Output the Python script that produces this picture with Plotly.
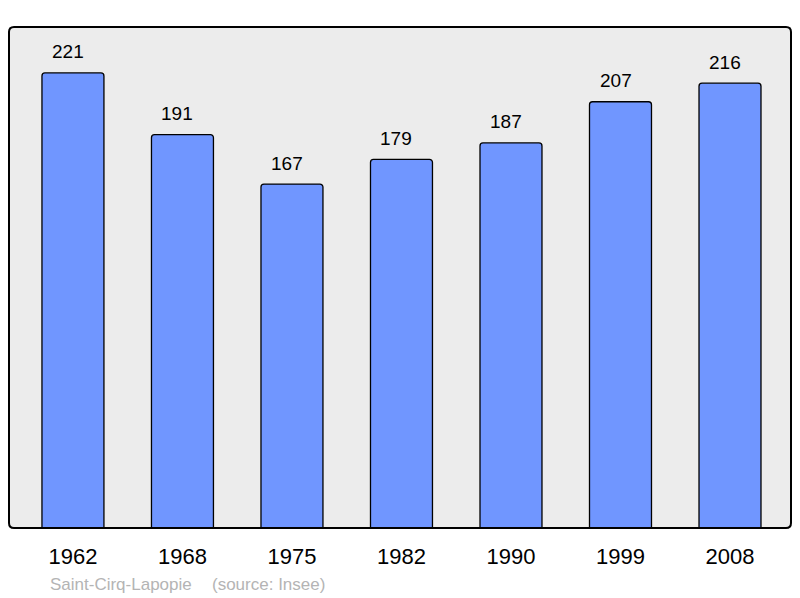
import plotly.graph_objects as go

years = ["1962", "1968", "1975", "1982", "1990", "1999", "2008"]
population = [221, 191, 167, 179, 187, 207, 216]
commune = "Saint-Cirq-Lapopie"
source = "(source: Insee)"

W, H = 800, 598
L, R, T, B = 9, 791, 27, 528

fig = go.Figure()
fig.add_trace(go.Bar(
    x=years, y=population, width=0.566,
    marker=dict(color="#7096ff", line=dict(color="#000000", width=1.3), cornerradius=3),
    hoverinfo="skip",
))

for i, v in enumerate(population):
    fig.add_annotation(x=i, y=v, text=str(v), showarrow=False, yanchor="middle",
                       yshift=21, xshift=-5, font=dict(size=19, color="#000000"))

# rounded frame in paper coords
rx, ry = 5 / (R - L), 5 / (B - T)
path = (f"M {rx},0 L {1-rx},0 Q 1,0 1,{ry} L 1,{1-ry} Q 1,1 {1-rx},1 "
        f"L {rx},1 Q 0,1 0,{1-ry} L 0,{ry} Q 0,0 {rx},0 Z")
fig.add_shape(type="path", path=path, xref="paper", yref="paper",
              line=dict(color="#000000", width=2), layer="above")

ysrc = -(584 - B) / (B - T)
fig.add_annotation(x=(49 - L) / (R - L), y=ysrc, xref="paper", yref="paper",
                   text=commune, showarrow=False, xanchor="left", yanchor="middle",
                   xshift=-1, font=dict(size=17, color="#b4b4b4"))
fig.add_annotation(x=(212 - L) / (R - L), y=ysrc, xref="paper", yref="paper",
                   text=source, showarrow=False, xanchor="left", yanchor="middle",
                   xshift=-2, font=dict(size=17, color="#b4b4b4"))

fig.update_layout(
    width=W, height=H,
    margin=dict(l=L, r=W - R, t=T, b=H - B),
    paper_bgcolor="#ffffff", plot_bgcolor="#ececec",
    font=dict(family="Liberation Sans, Arial, sans-serif"),
    showlegend=False,
    xaxis=dict(type="category", range=[-0.584, 6.557], showgrid=False, zeroline=False,
               ticks="outside", ticklen=9, tickcolor="rgba(0,0,0,0)",
               tickfont=dict(size=22, color="#000000"), showline=False, fixedrange=True),
    yaxis=dict(range=[0, 243.3], showgrid=False, zeroline=False, showticklabels=False,
               showline=False, fixedrange=True),
)

fig.write_html("out.html", config={"displayModeBar": False},
               post_script="document.body.style.margin='0';document.body.style.overflow='hidden';")
